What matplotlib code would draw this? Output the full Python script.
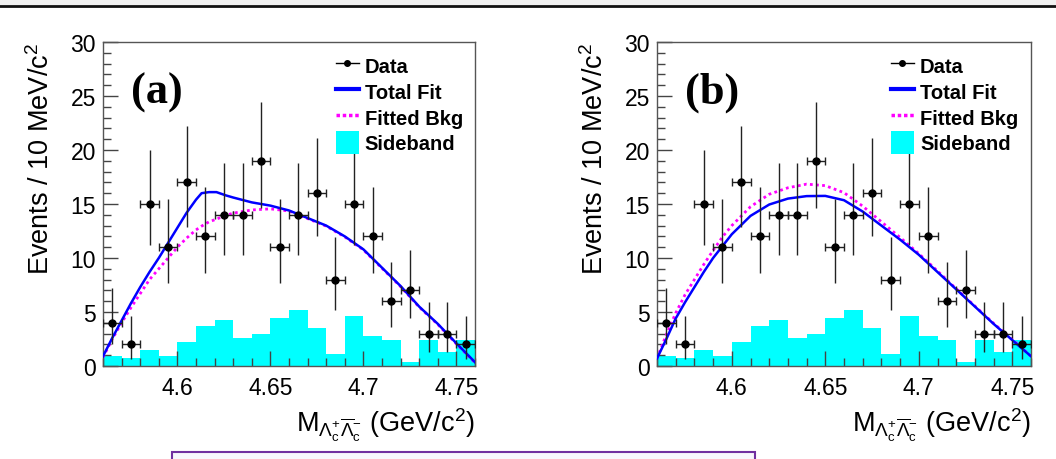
import numpy as np
import matplotlib
matplotlib.use('Agg')
import matplotlib.pyplot as plt
from matplotlib.lines import Line2D
from matplotlib.patches import Patch, Rectangle
from matplotlib.ticker import MultipleLocator, FormatStrFormatter

plt.rcParams['font.family'] = ['Liberation Sans', 'DejaVu Sans']
plt.rcParams['mathtext.fontset'] = 'custom'
plt.rcParams['mathtext.rm'] = 'Liberation Sans'
plt.rcParams['mathtext.it'] = 'Liberation Sans:italic'
plt.rcParams['mathtext.bf'] = 'Liberation Sans:bold'

# 10 MeV bins over the recoil mass window
bin_edges = np.round(np.arange(4.56, 4.7601, 0.01), 3)
bin_centers = np.round(bin_edges[:-1] + 0.005, 3)

# observed events per bin
data_counts = [4, 2, 15, 11, 17, 12, 14, 14, 19, 11, 14, 16, 8, 15, 12, 6, 7, 3, 3, 2]

# normalised sideband events per bin
sideband = [0.93, 0.74, 1.48, 0.93, 2.22, 3.70, 4.26, 2.59, 2.96, 4.44,
            5.18, 3.52, 1.11, 4.63, 2.78, 2.41, 0.37, 2.41, 1.30, 2.41]

# fit curves, fit (a)
fit_a_x = [4.560, 4.565, 4.570, 4.575, 4.580, 4.585, 4.590, 4.595, 4.600, 4.605,
           4.610, 4.613, 4.617, 4.621, 4.626, 4.630, 4.640, 4.650, 4.660, 4.670,
           4.680, 4.690, 4.700, 4.710, 4.720, 4.730, 4.740, 4.750, 4.760]
total_a = [0.9, 2.6, 4.2, 5.8, 7.3, 8.7, 10.0, 11.4, 12.8, 14.2,
           15.4, 16.0, 16.1, 16.1, 15.8, 15.6, 15.15, 14.85, 14.4, 13.7,
           13.0, 12.0, 10.8, 9.1, 7.4, 5.5, 3.9, 2.1, 0.35]
bkg_a = [0.8, 2.5, 4.0, 5.4, 6.7, 8.0, 9.0, 10.0, 11.0, 11.85,
         12.6, 12.95, 13.35, 13.6, 13.95, 14.15, 14.45, 14.55, 14.35, 13.65,
         12.95, 11.95, 10.75, 9.05, 7.35, 5.45, 3.85, 2.05, 0.3]

# fit curves, fit (b)
fit_b_x = [4.560, 4.565, 4.570, 4.575, 4.580, 4.585, 4.590, 4.595, 4.600, 4.610,
           4.620, 4.630, 4.640, 4.650, 4.660, 4.670, 4.680, 4.690, 4.700, 4.710,
           4.720, 4.730, 4.740, 4.750, 4.760]
total_b = [0.7, 2.5, 4.4, 5.9, 7.3, 8.7, 10.0, 11.1, 12.2, 13.9,
           14.95, 15.5, 15.73, 15.75, 15.35, 14.3, 13.0, 11.7, 10.3, 8.7,
           7.1, 5.5, 3.9, 2.4, 0.9]
bkg_b = [0.7, 2.9, 4.9, 6.6, 8.0, 9.4, 10.7, 11.95, 13.0, 14.75,
         15.9, 16.5, 16.84, 16.7, 16.05, 14.8, 13.35, 11.9, 10.4, 8.8,
         7.15, 5.55, 3.95, 2.45, 0.9]

# Poisson (Gehrels) asymmetric errors on the counts
n = np.array(data_counts, dtype=float)
err_lo = np.sqrt(n - 0.25)
err_hi = 1 + np.sqrt(n + 0.75)

fig = plt.figure(figsize=(10.56, 4.6), dpi=100)

# header strip and rule
fig.add_artist(Rectangle((0, 1 - 6 / 460), 1, 6 / 460, transform=fig.transFigure,
                         facecolor='#f0f0f0', edgecolor='none'))
fig.add_artist(Line2D([0, 1], [1 - 6.5 / 460, 1 - 6.5 / 460], transform=fig.transFigure,
                      color='#111111', lw=2))
# caption box below the plots
fig.add_artist(Rectangle((172 / 1056, -0.05), (755 - 172) / 1056, 0.05 + 7 / 460,
                         transform=fig.transFigure, facecolor='#f7f7fd',
                         edgecolor='#7030a0', lw=1.5, clip_on=False))

panels = [
    ('(a)', [103, 475], fit_a_x, total_a, bkg_a),
    ('(b)', [657, 1031], fit_b_x, total_b, bkg_b),
]

for tag, (x0, x1), fx, ftot, fbkg in panels:
    ax = fig.add_axes([x0 / 1056, 1 - 367 / 460, (x1 - x0) / 1056, (367 - 43) / 460])

    ax.stairs(sideband, bin_edges, fill=True, color='#00ffff', zorder=1)
    ax.plot(fx, ftot, color='#0000ff', lw=1.8, zorder=3)
    ax.plot(fx, fbkg, color='#ff00ff', lw=2.0, ls=(0, (1, 1.2)), zorder=2)

    ax.errorbar(bin_centers, data_counts, yerr=[err_lo, err_hi], fmt='none',
                ecolor='#222222', elinewidth=1.0, capsize=0, zorder=4)
    ax.errorbar(bin_centers, data_counts, xerr=0.005, fmt='o', color='black',
                ms=5, ecolor='#222222', elinewidth=1.0, capsize=3, capthick=1.0, zorder=5)

    ax.set_xlim(4.56, 4.76)
    ax.set_ylim(0, 30)
    ax.xaxis.set_major_locator(MultipleLocator(0.05))
    ax.xaxis.set_minor_locator(MultipleLocator(0.01))
    ax.yaxis.set_major_locator(MultipleLocator(5))
    ax.yaxis.set_minor_locator(MultipleLocator(1))
    ax.xaxis.set_major_formatter(FormatStrFormatter('%g'))
    ax.tick_params(which='both', direction='in', top=False, right=False,
                   color='#444444', labelsize=16.5)
    ax.tick_params(which='major', length=11, width=1)
    ax.tick_params(which='minor', length=6, width=1)
    ax.tick_params(axis='x', pad=7)
    ax.tick_params(axis='y', pad=5)
    for sp in ax.spines.values():
        sp.set_color('#555555')
        sp.set_linewidth(1.0)

    ax.set_ylabel('Events / 10 MeV/c$^{2}$', fontsize=19.5, loc='top', labelpad=11)
    ax.set_xlabel(r'M$_{\Lambda_{\mathrm{c}}^{+}\overline{\Lambda}_{\mathrm{c}}^{-}}$ (GeV/c$^{2}$)',
                  fontsize=19.5, loc='right', labelpad=5)

    ax.text(0.076, 0.846, tag, transform=ax.transAxes, fontsize=32,
            family='Liberation Serif', fontweight='bold', va='center', ha='left')

    handles = [
        Line2D([], [], color='black', marker='o', ms=4, lw=1),
        Line2D([], [], color='#0000ff', lw=3),
        Line2D([], [], color='#ff00ff', lw=2.5, ls=(0, (1, 0.8))),
        Patch(facecolor='#00ffff', edgecolor='none'),
    ]
    ax.legend(handles, ['Data', 'Total Fit', 'Fitted Bkg', 'Sideband'],
              loc='upper left', bbox_to_anchor=(0.625, 0.962), frameon=False,
              prop={'weight': 'bold', 'size': 14.5}, handlelength=1.15,
              handleheight=1.35, handletextpad=0.3, labelspacing=0.15, borderpad=0,
              borderaxespad=0)

fig.savefig('out.png', dpi=100)
